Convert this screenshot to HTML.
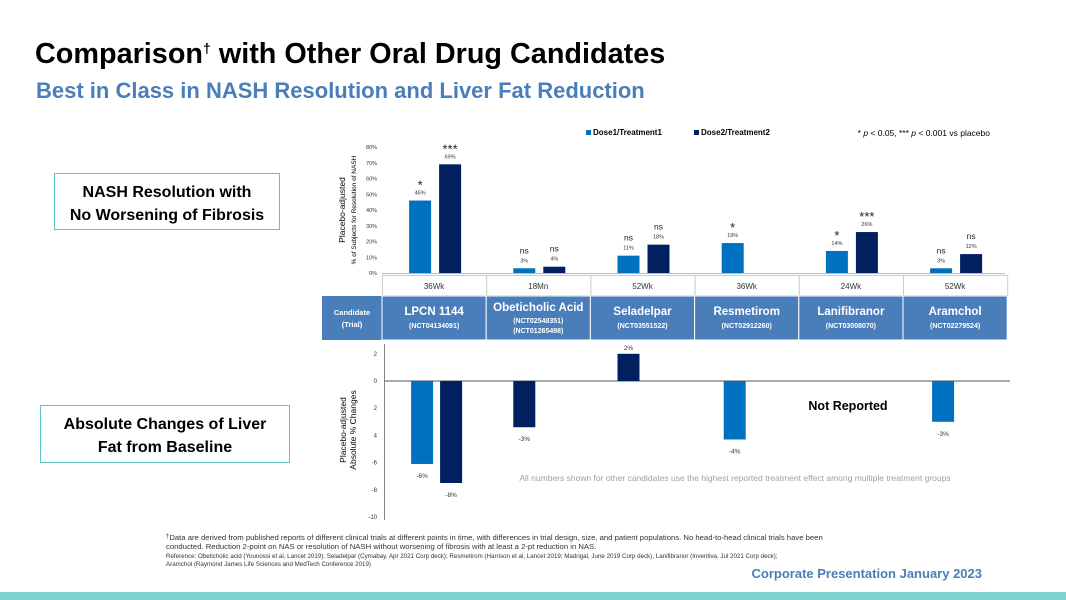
<!DOCTYPE html>
<html><head><meta charset="utf-8"><style>
body{margin:0;width:1066px;height:600px;overflow:hidden;background:#fff;font-family:"Liberation Sans",sans-serif}
svg{display:block}
</style></head><body>
<svg id="s" width="1066" height="600" viewBox="0 0 1066 600" xmlns="http://www.w3.org/2000/svg" font-family="Liberation Sans, sans-serif">
<text x="35" y="63" font-size="28.8" font-weight="bold" fill="#000">Comparison<tspan font-size="14" dy="-10">†</tspan><tspan dy="10"> with Other Oral Drug Candidates</tspan></text>
<text x="36" y="98" font-size="22" font-weight="bold" fill="#4a7ebb">Best in Class in NASH Resolution and Liver Fat Reduction</text>
<g>
<rect x="54.5" y="173.5" width="225" height="56" fill="#fff" stroke="#5bc4c4" stroke-width="1"/>
<text x="167" y="197" font-size="16" font-weight="bold" text-anchor="middle">NASH Resolution with</text>
<text x="167" y="220" font-size="16" font-weight="bold" text-anchor="middle">No Worsening of Fibrosis</text>
</g>
<g>
<rect x="40.5" y="405.5" width="249" height="57" fill="#fff" stroke="#5bc4c4" stroke-width="1"/>
<text x="165" y="429" font-size="16" font-weight="bold" text-anchor="middle">Absolute Changes of Liver</text>
<text x="165" y="452" font-size="16" font-weight="bold" text-anchor="middle">Fat from Baseline</text>
</g>
<g>
<rect x="586" y="130" width="5" height="5" fill="#0070c0"/><text x="593" y="135" font-size="8" font-weight="bold">Dose1/Treatment1</text>
<rect x="694" y="130" width="5" height="5" fill="#002060"/><text x="701" y="135" font-size="8" font-weight="bold">Dose2/Treatment2</text>
<text x="990" y="136" font-size="8.5" text-anchor="end">* <tspan font-style="italic">p</tspan> &lt; 0.05, *** <tspan font-style="italic">p</tspan> &lt; 0.001 vs placebo</text>
</g>
<text transform="translate(345,210) rotate(-90)" font-size="8.5" text-anchor="middle">Placebo-adjusted</text>
<text transform="translate(356,210) rotate(-90)" font-size="6.5" text-anchor="middle">% of Subjects for Resolution of NASH</text>
<text transform="translate(346,430) rotate(-90)" font-size="8.5" text-anchor="middle">Placebo-adjusted</text>
<text transform="translate(356,430) rotate(-90)" font-size="8.5" text-anchor="middle">Absolute % Changes</text>
<g id="topG"></g><g id="tbl"></g><g id="bot"></g>
<text x="735" y="481" font-size="8.5" fill="#a0a0a0" text-anchor="middle">All numbers shown for other candidates use the highest reported treatment effect among multiple treatment groups</text>
<text x="848" y="410" font-size="12.5" font-weight="bold" text-anchor="middle">Not Reported</text>
<g font-size="7.7" fill="#333">
<text x="166" y="540"><tspan font-size="6" dy="-2">†</tspan><tspan dy="2">Data are derived from published reports of different clinical trials at different points in time, with differences in trial design, size, and patient populations. No head-to-head clinical trials have been</tspan></text>
<text x="166" y="549">conducted. Reduction 2-point on NAS or resolution of NASH without worsening of fibrosis with at least a 2-pt reduction in NAS.</text>
<text x="166" y="558" font-size="6.2">Reference: Obeticholic acid (Younossi et al, Lancet 2019); Seladelpar (Cymabay, Apr 2021 Corp deck); Resmetirom (Harrison et al, Lancet 2019; Madrigal, June 2019 Corp deck), Lanifibranor (Inventiva, Jul 2021 Corp deck);</text>
<text x="166" y="566" font-size="6.2">Aramchol (Raymond James Life Sciences and MedTech Conference 2019)</text>
</g>
<text x="982" y="578" font-size="13" font-weight="bold" fill="#4a7ebb" text-anchor="end">Corporate Presentation January 2023</text>
<rect x="0" y="592" width="1066" height="8" fill="#7dd3cf"/>
</svg>
<script>
const categories=["LPCN 1144","Obeticholic Acid","Seladelpar","Resmetirom","Lanifibranor","Aramchol"];
const trials=[["(NCT04134091)"],["(NCT02548351)","(NCT01265498)"],["(NCT03551522)"],["(NCT02912260)"],["(NCT03008070)"],["(NCT02279524)"]];
const durations=["36Wk","18Mn","52Wk","36Wk","24Wk","52Wk"];
const nashDose1=[46,3,11,19,14,3];
const nashDose2=[69,4,18,null,26,12];
const sigDose1=["*","ns","ns","*","*","ns"];
const sigDose2=["***","ns","ns","","***","ns"];
const fatDose1=[-6.1,null,null,-4.3,null,-3.0];
const fatDose2=[-7.5,-3.4,2,null,null,null];
const fatLabels1=["-6%","","","-4%","","-3%"];
const fatLabels2=["-8%","-3%","2%","","",""];
const topTicks=[0,10,20,30,40,50,60,70,80];
const botTicks=[2,0,-2,-4,-6,-8,-10];
const botTickLabels=["2","0","2","4","-6","-8","-10"];
(function(){
const NS="http://www.w3.org/2000/svg";
const L="#0070c0",D="#002060";
function mk(p,t,a){const e=document.createElementNS(NS,t);for(const k in a)e.setAttribute(k,a[k]);p.appendChild(e);return e;}
const x0=382,cw=104.2;
const cx=i=>x0+cw*(i+0.5);
const yT=v=>273-v*1.575;
const yB=v=>381-v*13.6;
const tg=document.getElementById('topG'),bot=document.getElementById('bot'),tbl=document.getElementById('tbl');
topTicks.forEach(t=>{const e=mk(tg,'text',{x:377,y:yT(t)+2,'font-size':5.5,'text-anchor':'end',fill:'#333'});e.textContent=t+'%';

});
const ax=mk(tg,'line',{x1:382,x2:1005,y1:273.5,y2:273.5,stroke:'#bbb'});


function topBar(v,i,dx,col,sig){
 if(v==null)return;
 const r=mk(tg,'rect',{x:cx(i)+dx,y:yT(v),width:22,height:yT(0)-yT(v),fill:col});
 
 
 const t=mk(tg,'text',{x:cx(i)+dx+11,y:yT(v)-6,'font-size':5.5,'text-anchor':'middle',fill:'#333'});t.textContent=v+'%';
 
 
 if(sig){const isNs=sig=='ns';const s=mk(tg,'text',{x:cx(i)+dx+11,y:yT(v)-(isNs?15:11),'font-size':isNs?8.5:13,'text-anchor':'middle',fill:'#222'});s.textContent=sig;
 
 }
}
categories.forEach((c,i)=>{topBar(nashDose1[i],i,-25,L,sigDose1[i]);topBar(nashDose2[i],i,5,D,sigDose2[i]);});
const lbl=mk(tbl,'rect',{x:322,y:296,width:60,height:44,fill:'#4a7ebb'});


let t1=mk(tbl,'text',{x:352,y:315,'font-size':7.5,'font-weight':'bold',fill:'#fff','text-anchor':'middle'});t1.textContent='Candidate';
let t2=mk(tbl,'text',{x:352,y:327,'font-size':7.5,'font-weight':'bold',fill:'#fff','text-anchor':'middle'});t2.textContent='(Trial)';
categories.forEach((c,i)=>{
 const x=x0+cw*i;
 const w=mk(tbl,'rect',{x:x+0.5,y:275.5,width:cw,height:20,fill:'#fff',stroke:'#ccc'});
 
 
 const wt=mk(tbl,'text',{x:cx(i),y:289,'font-size':8,'text-anchor':'middle',fill:'#333'});wt.textContent=durations[i];
 const b=mk(tbl,'rect',{x:x,y:296,width:cw,height:44,fill:'#4a7ebb',stroke:'#fff','stroke-width':1});
 
 
 const two=trials[i].length>1;
 const n=mk(tbl,'text',{x:cx(i),y:two?311:315,'font-size':11.5,'font-weight':'bold',fill:'#fff','text-anchor':'middle'});n.textContent=c;
 trials[i].forEach((tr,j)=>{const e=mk(tbl,'text',{x:cx(i),y:(two?323:328)+j*10,'font-size':7,'font-weight':'bold',fill:'#fff','text-anchor':'middle'});e.textContent=tr;});
});
botTicks.forEach((t,k)=>{const e=mk(bot,'text',{x:377,y:yB(t)+2,'font-size':6,'text-anchor':'end',fill:'#333'});e.textContent=botTickLabels[k];

});
mk(bot,'line',{x1:384.5,x2:384.5,y1:344,y2:520,stroke:'#666','stroke-width':0.8});
const bx=mk(bot,'line',{x1:384,x2:1010,y1:yB(0),y2:yB(0),stroke:'#777','stroke-width':1.2});


function botBar(v,i,dx,col,lab){
 if(v==null)return;
 const y=Math.min(yB(v),yB(0)),h=Math.abs(yB(v)-yB(0));
 const r=mk(bot,'rect',{x:cx(i)+dx,y:y,width:22,height:h,fill:col});
 
 
 const t=mk(bot,'text',{x:cx(i)+dx+11,y:v<0?yB(v)+14:yB(v)-4,'font-size':6.5,'text-anchor':'middle',fill:'#333'});t.textContent=lab;
 
 
}
categories.forEach((c,i)=>{
 botBar(fatDose1[i],i,-23,L,fatLabels1[i]);
 botBar(fatDose2[i],i,fatDose1[i]==null?-25:6,D,fatLabels2[i]);
});
})();
</script>
</body></html>
